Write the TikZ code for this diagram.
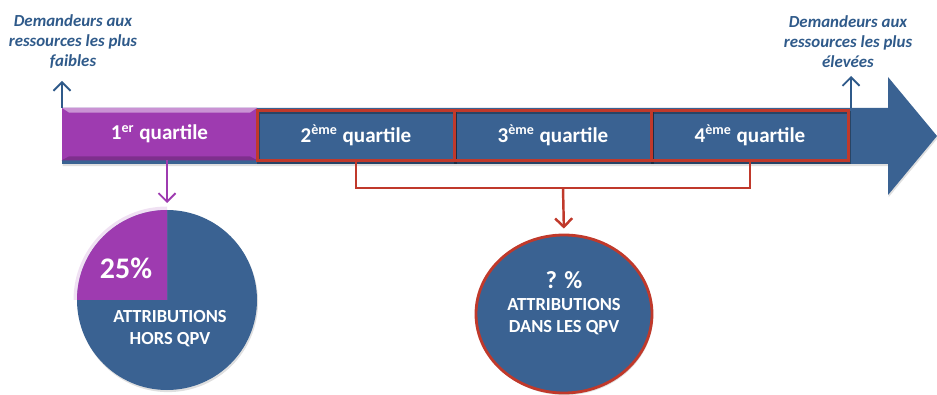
\documentclass[tikz,border=0pt]{standalone}
\usepackage{fontspec}
\setmainfont{Carlito}
\usetikzlibrary{arrows.meta,positioning,shapes.geometric,shadows}
\definecolor{QBlue}{HTML}{3A6292}
\definecolor{QInk}{HTML}{2F5A8A}
\definecolor{QPurple}{HTML}{9E3BB0}
\definecolor{QRed}{HTML}{C0392B}

\begin{document}
\begin{tikzpicture}[
  band/.style={fill=QBlue,drop shadow={opacity=0.25,shadow xshift=0.4pt,shadow yshift=-1.2pt}},
  first/.style={fill=QPurple,minimum width=3.9cm,minimum height=1.04cm,inner sep=0pt,text=white,font=\bfseries\fontsize{12}{14}\selectfont},
  quart/.style={draw=QRed,line width=1.6pt,minimum width=3.94cm,minimum height=1.0cm,inner sep=0pt,text=white,font=\bfseries\fontsize{12}{14}\selectfont,drop shadow={opacity=0.3,shadow xshift=0.6pt,shadow yshift=-1pt,fill=none,draw=black}},
  side/.style={text=QInk,align=center,font=\bfseries\itshape\fontsize{9.6}{11.4}\selectfont},
  uparrow/.style={draw=QInk,line width=1.1pt,-{Straight Barb[length=1.7mm,width=3.4mm]}},
  violet/.style={draw=QPurple,line width=1.1pt,-{Straight Barb[length=1.7mm,width=3.4mm]}},
  bracket/.style={draw=QRed,line width=1.4pt},
  pie/.style={circle,fill=QBlue,minimum size=3.6cm,inner sep=0pt,outer sep=0pt,drop shadow={opacity=0.25,shadow xshift=0.6pt,shadow yshift=-1.2pt}},
  ring/.style={ellipse,fill=QBlue,draw=QRed,line width=1.6pt,minimum width=3.52cm,minimum height=3.16cm,inner sep=0pt,drop shadow={opacity=0.25,shadow xshift=0.6pt,shadow yshift=-1.2pt}},
  inner/.style={text=white,align=center,font=\bfseries\fontsize{10.5}{12.5}\selectfont}
]
\useasboundingbox (0,0) rectangle (18.74,7.88);
\path[band] (1.24,4.6) -- (1.24,5.72) -- (17.76,5.72) -- (17.76,6.34) -- (18.74,5.16) -- (17.76,3.98) -- (17.76,4.6) -- cycle;
\node[first] (q1) at (3.19,5.2) {1\textsuperscript{er} quartile};
\fill[QPurple!55!white] (q1.north west) -- (q1.north east) -- ([xshift=-1.5mm,yshift=-1mm]q1.north east) -- ([xshift=1.5mm,yshift=-1mm]q1.north west) -- cycle;
\fill[QPurple!80!black] (q1.south west) -- (q1.south east) -- ([xshift=-1.5mm,yshift=0.8mm]q1.south east) -- ([xshift=1.5mm,yshift=0.8mm]q1.south west) -- cycle;
\node[quart] (q2) at (7.12,5.17) {2\textsuperscript{ème} quartile};
\node[quart] (q3) at (11.06,5.17) {3\textsuperscript{ème} quartile};
\node[quart] (q4) at (15.0,5.17) {4\textsuperscript{ème} quartile};
\node[side] (poor) at (1.46,7.04) {Demandeurs aux\\ressources les plus\\faibles};
\node[side] (rich) at (16.96,7.04) {Demandeurs aux\\ressources les plus\\élevées};
\coordinate (lowend) at (1.24,5.72);
\coordinate (lowtip) at (1.24,6.26);
\coordinate (highend) at (17.02,5.72);
\coordinate (hightip) at (17.02,6.36);
\draw[uparrow] (lowend) -- (lowtip);
\draw[uparrow] (highend) -- (hightip);
\node[pie] (pie) at (3.34,1.88) {};
\fill[QPurple!30,opacity=0.5] (pie.center) -- ++(-1.87,0) arc[start angle=180,end angle=90,radius=1.87] -- cycle;
\fill[QPurple] (pie.center) -- (pie.west) arc[start angle=180,end angle=90,radius=1.8] -- cycle;
\node[text=white,font=\bfseries\fontsize{17}{20}\selectfont] (share) at (2.52,2.52) {25\%};
\node[inner] (hors) at (3.4,1.3) {ATTRIBUTIONS\\HORS QPV};
\draw[violet,shorten >=1.4mm] (q1.south -| pie.north) -- (pie.north);
\node[ring] (qpv) at (11.28,1.6) {};
\node[inner] (dans) at ([yshift=2.2mm]qpv.center) {{\fontsize{14}{16}\selectfont ? \%}\\ATTRIBUTIONS\\DANS LES QPV};
\coordinate (join) at (11.26,4.12);
\draw[bracket] (q2.south) |- (join) -| (q4.south);
\draw[bracket,-{Straight Barb[length=1.7mm,width=3.4mm]},shorten >=1mm] (join) -- (qpv.north);
\end{tikzpicture}
\end{document}
